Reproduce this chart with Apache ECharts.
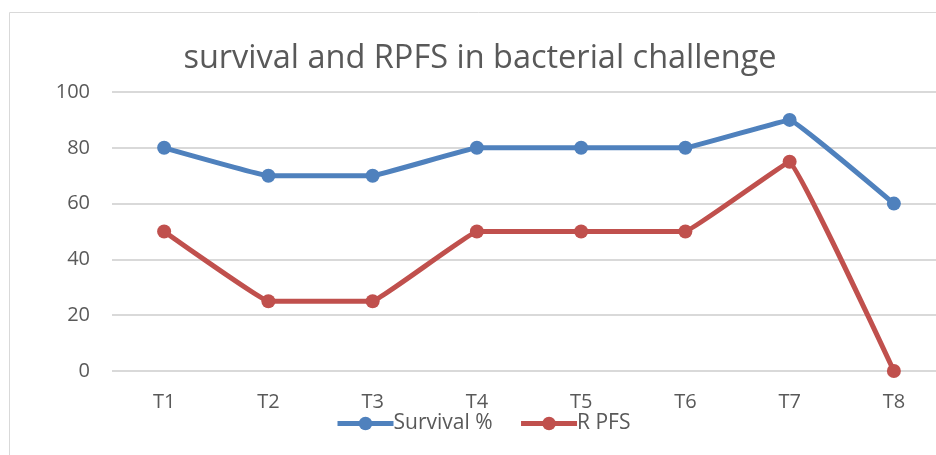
<!DOCTYPE html>
<html lang="en">
<head>
    <meta charset="UTF-8">
    <title>survival and RPFS</title>
    <script src="https://cdn.jsdelivr.net/npm/echarts@6/dist/echarts.min.js"></script>
    <style>
        html, body {
            margin: 0;
            padding: 0;
            background: #fff;
            overflow: hidden;
        }
        /* plot runs past the right edge of the window, as in the source */
        #chart {
            width: 946px;
            height: 455px;
        }
    </style>
</head>
<body>
<div id="chart"></div>
<script>
    var categories = ['T1', 'T2', 'T3', 'T4', 'T5', 'T6', 'T7', 'T8'];
    var survival = [80, 70, 70, 80, 80, 80, 90, 60];
    var rpfs = [50, 25, 25, 50, 50, 50, 75, 0];
    var yTicks = [0, 20, 40, 60, 80, 100];

    var font = 'Open Sans';
    var grey = '#595959';

    var myChart = echarts.init(document.getElementById('chart'));
    var option = {
        animation: false,
        title: {
            text: 'survival and RPFS in bacterial challenge',
            left: 475,
            top: 37,
            textAlign: 'center',
            textStyle: {
                fontFamily: font,
                fontSize: 32.5,
                fontWeight: 'normal',
                color: grey
            }
        },
        graphic: [{
            type: 'rect',
            shape: {x: 9.5, y: 12.5, width: 1000, height: 1000},
            style: {fill: 'none', stroke: '#d9d9d9', lineWidth: 1}
        }],
        legend: {
            left: 335,
            top: 413,
            padding: 0,
            itemWidth: 56,
            itemHeight: 17,
            itemGap: 26,
            lineStyle: {width: 5},
            textStyle: {fontFamily: font, fontSize: 21, color: grey, padding: [0, 0, 0, -5]},
            data: ['Survival %', 'R PFS']
        },
        grid: {
            left: 112,
            top: 92,
            width: 834,
            height: 279,
            containLabel: false
        },
        xAxis: {
            type: 'category',
            data: categories,
            boundaryGap: true,
            axisLine: {show: false},
            axisTick: {show: false},
            axisLabel: {fontFamily: font, fontSize: 20, color: grey, margin: 21}
        },
        yAxis: {
            type: 'value',
            min: yTicks[0],
            max: yTicks[yTicks.length - 1],
            interval: 20,
            axisLine: {show: false},
            axisTick: {show: false},
            axisLabel: {fontFamily: font, fontSize: 20, color: grey, margin: 22},
            splitLine: {lineStyle: {color: '#d9d9d9', width: 2}}
        },
        series: [
            {
                name: 'Survival %',
                type: 'line',
                data: survival,
                smooth: 0.05,
                symbol: 'circle',
                symbolSize: 14,
                lineStyle: {color: '#4f81bd', width: 5},
                itemStyle: {color: '#4f81bd'}
            },
            {
                name: 'R PFS',
                type: 'line',
                data: rpfs,
                smooth: 0.05,
                symbol: 'circle',
                symbolSize: 14,
                lineStyle: {color: '#c0504d', width: 5},
                itemStyle: {color: '#c0504d'}
            }
        ]
    };
    myChart.setOption(option);
</script>
</body>
</html>
